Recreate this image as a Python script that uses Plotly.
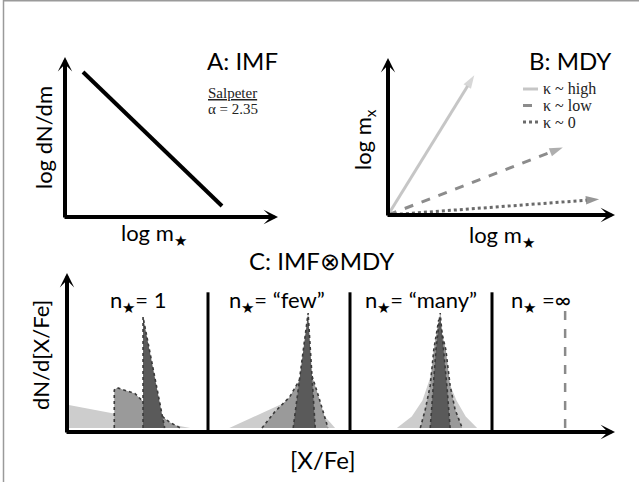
import plotly.graph_objects as go

W, H = 639, 482
SANS = "Lato, 'Open Sans', sans-serif"
SERIF = "'Liberation Serif', 'DejaVu Serif', serif"

# ---------------- A: IMF (Salpeter power law) ----------------
imf_log_m = [-1.0, 2.0]
imf_log_dndm = [2.35, -4.7]          # slope -alpha
imf_alpha = 2.35

# ---------------- B: metal yield vs. stellar mass ----------------
mdy_labels = ["κ ~ high", "κ ~ low", "κ ~ 0"]
mdy_log_mstar_end = [0.38, 0.77, 0.93]
mdy_log_mx_end = [0.89, 0.43, 0.10]
mdy_colors = ["#c6c6c6", "#8c8c8c", "#6a6a6a"]
mdy_dash = ["solid", "dash", "dot"]

# ---------------- C: IMF ⊗ MDY, [X/Fe] distributions ----------------
box_labels = ["n<sub>★</sub>= 1", "n<sub>★</sub>= “few”",
              "n<sub>★</sub>= “many”", "n<sub>★</sub> =∞"]

# n = 1
one_light_x = [-0.96, -0.96, 0.75]
one_light_y = [0.0, 0.20, 0.0]
one_mid_x = [-0.32, -0.32, -0.28, -0.17, -0.03, 0.07, 0.25, 0.46, 0.61]
one_mid_y = [0.0, 0.33, 0.35, 0.33, 0.30, 0.24, 0.15, 0.05, 0.0]
one_dark_x = [0.085, 0.085, 0.39]
one_dark_y = [0.0, 0.965, 0.0]

# n = "few"
few_light_x = [-0.70, 0.36, 0.79]
few_light_y = [0.0, 0.30, 0.0]
few_mid_x = [-0.24, -0.06, 0.15, 0.30, 0.38, 0.44, 0.55, 0.69]
few_mid_y = [0.0, 0.14, 0.27, 0.43, 0.63, 0.50, 0.29, 0.0]
few_dark_x = [0.20, 0.41, 0.51]
few_dark_y = [0.0, 1.0, 0.0]

# n = "many"
many_light_x = [-0.34, -0.13, 0.02, 0.12, 0.20, 0.24, 0.30, 0.38, 0.50, 0.63, 0.79]
many_light_y = [0.0, 0.10, 0.24, 0.42, 0.65, 0.80, 0.65, 0.42, 0.24, 0.10, 0.0]
many_mid_x = [-0.01, 0.06, 0.13, 0.18, 0.25, 0.35, 0.41, 0.48, 0.58]
many_mid_y = [0.0, 0.16, 0.37, 0.68, 0.94, 0.68, 0.37, 0.16, 0.0]
many_dark_x = [0.13, 0.17, 0.21, 0.27, 0.32, 0.37, 0.41]
many_dark_y = [0.0, 0.33, 0.68, 1.0, 0.68, 0.33, 0.0]

# n = infinity: a single delta function
inf_x = 0.03
inf_height = 1.06

box_offsets = [0.0, 2.0, 4.0, 6.0]
separator_height = 1.18

LIGHT, MID, DARK = "#cdcdcd", "#9a9a9a", "#5a5a5a"
EDGE = "#3a3a3a"


# ---- pixel <-> data helpers for the three panels ----
def lin(px_ref, val_ref, ppu):
    return lambda p: val_ref + (p - px_ref) / ppu


axA, ayA = lin(83, -1.0, 46.33), lin(72, 2.35, -19.0)
axB, ayB = lin(388, 0.0, 227.0), lin(215, 0.0, -157.0)
axC, ayC = lin(66, -1.0, 71.0), lin(428, 0.0, -115.0)


def xdom(p0, p1):
    return [p0 / W, p1 / W]


def ydom(ptop, pbot):
    return [1 - pbot / H, 1 - ptop / H]


fig = go.Figure()

# A: IMF line
fig.add_trace(go.Scatter(x=imf_log_m, y=imf_log_dndm, mode="lines",
                         line=dict(color="black", width=4),
                         xaxis="x", yaxis="y", showlegend=False))

# B: MDY arrows
for xe, ye, c, d in zip(mdy_log_mstar_end, mdy_log_mx_end, mdy_colors, mdy_dash):
    fig.add_trace(go.Scatter(
        x=[0.0, xe], y=[0.0, ye], mode="lines+markers",
        line=dict(color=c, width=3, dash=d),
        marker=dict(symbol=["circle", "arrow"], size=[0, 14], color=c,
                    angleref="previous", line=dict(width=0)),
        xaxis="x2", yaxis="y2", showlegend=False))

# C: distributions
def poly(xs, ys, off, fill, edge):
    fig.add_trace(go.Scatter(
        x=[v + off for v in xs], y=ys, mode="lines", fill="toself",
        fillcolor=fill,
        line=dict(color=edge if edge else fill, width=1.6 if edge else 0,
                  dash="dot"),
        xaxis="x3", yaxis="y3", showlegend=False))


poly(one_light_x, one_light_y, box_offsets[0], LIGHT, None)
poly(one_mid_x, one_mid_y, box_offsets[0], MID, EDGE)
poly(one_dark_x, one_dark_y, box_offsets[0], DARK, EDGE)
poly(few_light_x, few_light_y, box_offsets[1], LIGHT, None)
poly(few_mid_x, few_mid_y, box_offsets[1], MID, EDGE)
poly(few_dark_x, few_dark_y, box_offsets[1], DARK, EDGE)
poly(many_light_x, many_light_y, box_offsets[2], LIGHT, None)
poly(many_mid_x, many_mid_y, box_offsets[2], MID, EDGE)
poly(many_dark_x, many_dark_y, box_offsets[2], DARK, EDGE)

fig.add_trace(go.Scatter(
    x=[inf_x + box_offsets[3]] * 2, y=[0.0, inf_height], mode="lines",
    line=dict(color="#8a8a8a", width=2.5, dash="dash"),
    xaxis="x3", yaxis="y3", showlegend=False))

# separators between the n-boxes
for off in box_offsets[:3]:
    fig.add_trace(go.Scatter(
        x=[off + 1.0] * 2, y=[ayC(432), separator_height], mode="lines",
        line=dict(color="black", width=3),
        xaxis="x3", yaxis="y3", showlegend=False))

annotations = []


def axis_arrow(xr, yr, x, y, ax, ay):
    annotations.append(dict(
        xref=xr, yref=yr, axref=xr, ayref=yr, x=x, y=y, ax=ax, ay=ay,
        text="", showarrow=True, arrowhead=3, arrowwidth=4, arrowsize=0.6,
        arrowcolor="black", standoff=0, startstandoff=0))


# A axes
axis_arrow("x", "y", axA(278), ayA(217), axA(63), ayA(217))
axis_arrow("x", "y", axA(65), ayA(57), axA(65), ayA(219))
# B axes
axis_arrow("x2", "y2", axB(615), ayB(215), axB(386), ayB(215))
axis_arrow("x2", "y2", axB(388), ayB(58), axB(388), ayB(217))
# C axes
axis_arrow("x3", "y3", axC(615), ayC(432), axC(65), ayC(432))
axis_arrow("x3", "y3", axC(67), ayC(273), axC(67), ayC(434))


def label(px, py, text, size, font=SANS, angle=0, xanchor="center", color="black"):
    annotations.append(dict(
        xref="paper", yref="paper", x=px / W, y=1 - py / H, text=text,
        showarrow=False, xanchor=xanchor, yanchor="middle", textangle=angle,
        font=dict(family=font, size=size, color=color)))


label(242, 60, "A: IMF", 24)
label(206, 93, "<u>Salpeter</u>", 15, SERIF, xanchor="left", color="#222")
label(206, 109, f"α = {imf_alpha}", 15, SERIF, xanchor="left", color="#222")
label(43, 138, "log dN/dm", 22, angle=-90)
label(154, 234, "log m<sub>★</sub>", 22)

label(570, 60, "B: MDY", 24)
label(364, 140, "log m<sub>x</sub>", 22, angle=-90)
label(502, 236, "log m<sub>★</sub>", 22)
for i, txt in enumerate(mdy_labels):
    label(541, 89 + 16.5 * i, txt, 16, SERIF, xanchor="left", color="#222")

label(322, 260, "C: IMF⊗MDY", 24)
label(40, 355, "dN/d[X/Fe]", 22, angle=-90)
label(323, 459, "[X/Fe]", 24)
for cx, txt in zip([138, 277, 421, 541], box_labels):
    label(cx, 301, txt, 22)

# legend keys for panel B
shapes = []
for i, (c, d) in enumerate(zip(mdy_colors, mdy_dash)):
    yk = 1 - (89 + 16.5 * i) / H
    shapes.append(dict(type="line", xref="paper", yref="paper",
                       x0=523 / W, x1=538 / W, y0=yk, y1=yk,
                       line=dict(color=c, width=3, dash=d)))
# page frame (top and left edges)
shapes.append(dict(type="line", xref="paper", yref="paper",
                   x0=3.5 / W, x1=1, y0=1 - 0.8 / H, y1=1 - 0.8 / H,
                   line=dict(color="#9a9a9a", width=1.5)))
shapes.append(dict(type="line", xref="paper", yref="paper",
                   x0=3.5 / W, x1=3.5 / W, y0=0, y1=1,
                   line=dict(color="#9a9a9a", width=1.5)))

hidden = dict(visible=False, showgrid=False, zeroline=False, fixedrange=True)
fig.update_layout(
    width=W, height=H, margin=dict(l=0, r=0, t=0, b=0),
    paper_bgcolor="white", plot_bgcolor="rgba(0,0,0,0)",
    xaxis=dict(domain=xdom(55, 290), range=[axA(55), axA(290)], anchor="y", **hidden),
    yaxis=dict(domain=ydom(45, 228), range=[ayA(228), ayA(45)], anchor="x", **hidden),
    xaxis2=dict(domain=xdom(378, 625), range=[axB(378), axB(625)], anchor="y2", **hidden),
    yaxis2=dict(domain=ydom(45, 225), range=[ayB(225), ayB(45)], anchor="x2", **hidden),
    xaxis3=dict(domain=xdom(58, 636), range=[axC(58), axC(636)], anchor="y3", **hidden),
    yaxis3=dict(domain=ydom(262, 442), range=[ayC(442), ayC(262)], anchor="x3", **hidden),
    annotations=annotations, shapes=shapes, showlegend=False,
)

fig.write_html("out.html")
